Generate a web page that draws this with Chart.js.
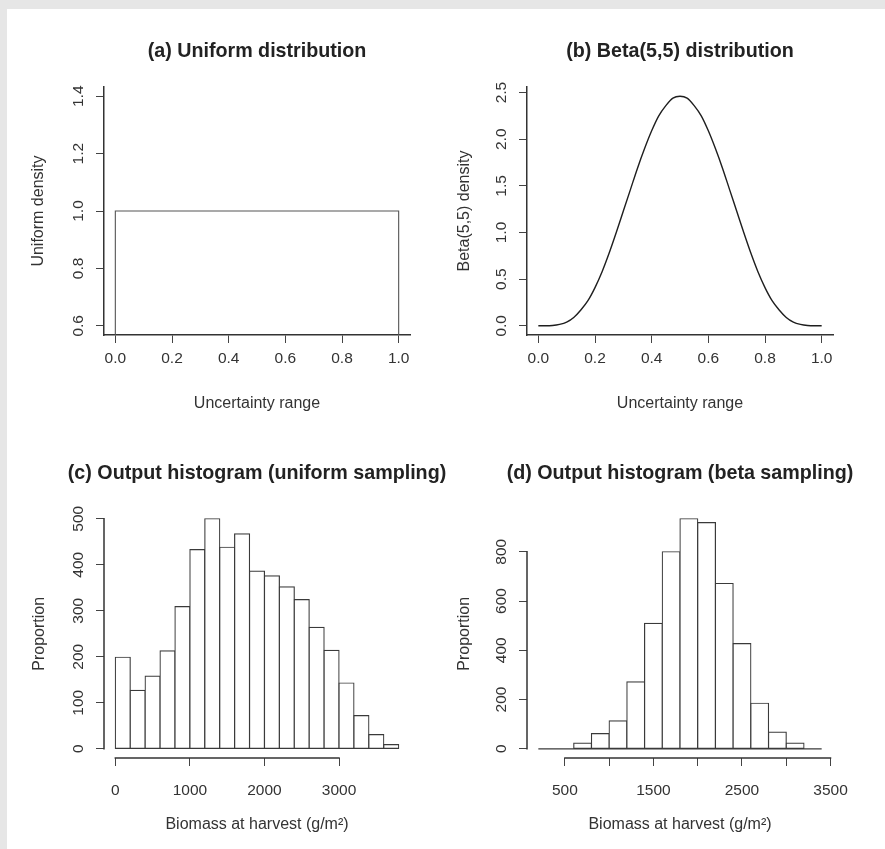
<!DOCTYPE html>
<html>
<head>
<meta charset="utf-8">
<title>Uncertainty sampling and output histograms</title>
<script src="https://cdn.jsdelivr.net/npm/chart.js@4.4.1/dist/chart.umd.min.js"></script>
<style>
  html, body { margin: 0; padding: 0; }
  body { width: 885px; height: 849px; background: #e6e6e6; position: relative; overflow: hidden; }
  #sheet { position: absolute; left: 7px; top: 9px; width: 878px; height: 840px; background: #ffffff; }
  canvas { position: absolute; }
</style>
</head>
<body>
<div id="sheet"></div>
<canvas id="panelA" width="500" height="421" style="left:7px;top:9px"></canvas>
<canvas id="panelB" width="474" height="421" style="left:443px;top:9px"></canvas>
<canvas id="panelC" width="500" height="419" style="left:7px;top:430px"></canvas>
<canvas id="panelD" width="474" height="419" style="left:443px;top:430px"></canvas>
<script>
// ---- (a) uniform density on the unit range ----
const uniformX = [0, 0, 1, 1];
const uniformY = [0, 1, 1, 0];
const unitTicks = [0, 0.2, 0.4, 0.6, 0.8, 1.0];
const unitTickLabels = ['0.0', '0.2', '0.4', '0.6', '0.8', '1.0'];
const uniformDensityTicks = [0.6, 0.8, 1.0, 1.2, 1.4];
const uniformDensityLabels = ['0.6', '0.8', '1.0', '1.2', '1.4'];

// ---- (b) Beta(5,5) density curve ----
const betaX = [0, 0.025, 0.05, 0.075, 0.1, 0.125, 0.15, 0.175, 0.2, 0.225, 0.25,
               0.275, 0.3, 0.325, 0.35, 0.375, 0.4, 0.425, 0.45, 0.475, 0.5,
               0.525, 0.55, 0.575, 0.6, 0.625, 0.65, 0.675, 0.7, 0.725, 0.75,
               0.775, 0.8, 0.825, 0.85, 0.875, 0.9, 0.925, 0.95, 0.975, 1.0];
const betaDensity = [0, 0, 0.003, 0.015, 0.04, 0.09, 0.17, 0.27, 0.41, 0.58, 0.78,
                     1.00, 1.23, 1.46, 1.69, 1.90, 2.09, 2.25, 2.36, 2.44, 2.46,
                     2.44, 2.36, 2.25, 2.09, 1.90, 1.69, 1.46, 1.23, 1.00, 0.78,
                     0.58, 0.41, 0.27, 0.17, 0.09, 0.04, 0.015, 0.003, 0, 0];
const betaDensityTicks = [0, 0.5, 1.0, 1.5, 2.0, 2.5];
const betaDensityLabels = ['0.0', '0.5', '1.0', '1.5', '2.0', '2.5'];

// ---- (c) biomass histogram, uniform sampling (bins of 200 g/m2 from 0) ----
const binWidth = 200;
const uniformBinStart = 0;
const uniformCounts = [199, 127, 158, 213, 309, 433, 500, 438, 467, 386,
                       376, 352, 324, 264, 214, 143, 72, 31, 9];
const uniformBiomassTicks = [0, 1000, 2000, 3000];
const uniformBiomassLabels = ['0', '1000', '2000', '3000'];
const uniformCountTicks = [0, 100, 200, 300, 400, 500];
const uniformCountLabels = ['0', '100', '200', '300', '400', '500'];

// ---- (d) biomass histogram, beta sampling (bins of 200 g/m2 from 200) ----
const betaBinStart = 200;
const betaCounts = [0, 0, 23, 62, 113, 272, 509, 800, 934, 918, 671, 427, 185, 68, 23, 0];
const betaBiomassTicks = [500, 1000, 1500, 2000, 2500, 3000, 3500];
const betaBiomassLabels = ['500', '', '1500', '', '2500', '', '3500'];
const betaCountTicks = [0, 200, 400, 600, 800];
const betaCountLabels = ['0', '200', '400', '600', '800'];

const FONT = "'Liberation Sans', Arial, Helvetica, sans-serif";
const INK = '#333333';

// Axis line drawn only between the first and last tick (classic R axis style)
const tickSpanAxes = {
  id: 'tickSpanAxes',
  afterDraw(chart) {
    const ctx = chart.ctx;
    const xs = chart.scales.x, ys = chart.scales.y;
    ctx.save();
    ctx.strokeStyle = INK;
    ctx.lineWidth = 1.5;
    ctx.lineCap = 'square';
    ctx.beginPath();
    ctx.moveTo(xs.getPixelForValue(xs.ticks[0].value), xs.top);
    ctx.lineTo(xs.getPixelForValue(xs.ticks[xs.ticks.length - 1].value), xs.top);
    ctx.moveTo(ys.right, ys.getPixelForValue(ys.ticks[0].value));
    ctx.lineTo(ys.right, ys.getPixelForValue(ys.ticks[ys.ticks.length - 1].value));
    ctx.stroke();
    ctx.restore();
  }
};

function axis(o) {
  return {
    type: 'linear',
    bounds: 'data',
    min: o.min,
    max: o.max,
    offset: false,
    afterBuildTicks: (s) => { s.ticks = o.ticks.map(v => ({ value: v })); },
    afterFit: (s) => {
      if (o.width !== undefined) s.width = o.width;
      if (o.height !== undefined) s.height = o.height;
    },
    grid: {
      display: true, drawOnChartArea: false, drawTicks: true, offset: false,
      tickLength: 8, tickWidth: 1, tickColor: '#444', color: '#444', lineWidth: 1
    },
    border: { display: o.border, color: INK, width: 1.5 },
    ticks: {
      autoSkip: false,
      minRotation: o.rot, maxRotation: o.rot,
      crossAlign: o.cross,
      padding: o.tickPad,
      color: INK,
      font: { family: FONT, size: 15.5 },
      callback: (v, i) => o.labels[i]
    },
    title: {
      display: true, text: o.title, color: INK,
      font: { family: FONT, size: 16 },
      padding: { top: o.titlePad, bottom: o.titlePad }
    }
  };
}

// Empty right-hand margin as wide as the left axis, so the full-width
// panel title is centred over the plot area.
function rightMargin(width) {
  return {
    type: 'linear', position: 'right', min: 0, max: 1, display: true,
    grid: { display: false }, border: { display: false },
    ticks: { display: false }, title: { display: false },
    afterFit: (s) => { s.width = width; }
  };
}

function panelOptions(p) {
  return {
    responsive: false,
    animation: false,
    events: [],
    layout: { padding: 0 },
    plugins: {
      legend: { display: false },
      tooltip: { enabled: false },
      title: {
        display: true, text: p.title, fullSize: true, color: '#222',
        font: { family: FONT, size: 19.7, weight: 'bold' },
        padding: { top: p.headTop, bottom: p.headBottom }
      }
    },
    scales: {
      x: axis({ min: p.xMin, max: p.xMax, ticks: p.xTicks, labels: p.xLabels, rot: 0, cross: 'near',
                tickPad: p.xTickPad, title: p.xTitle, titlePad: p.xTitlePad, height: p.xHeight, border: p.box }),
      y: axis({ min: p.yMin, max: p.yMax, ticks: p.yTicks, labels: p.yLabels, rot: 90, cross: 'center',
                tickPad: p.yTickPad, title: p.yTitle, titlePad: p.yTitlePad, width: p.yWidth, border: p.box }),
      margin: rightMargin(p.yWidth)
    }
  };
}

function histogramPoints(start, counts) {
  return counts.map((c, i) => ({ x: start + (i + 0.5) * binWidth, y: c }));
}

const barStyle = {
  type: 'bar',
  backgroundColor: '#ffffff',
  borderColor: '#3a3a3a',
  borderWidth: 1.2,
  borderSkipped: false,
  inflateAmount: 0.6,
  barPercentage: 1,
  categoryPercentage: 1
};

// (a) Uniform distribution
new Chart(document.getElementById('panelA'), {
  type: 'line',
  data: {
    datasets: [{
      data: uniformX.map((x, i) => ({ x, y: uniformY[i] })),
      borderColor: '#555555', borderWidth: 1.1, pointRadius: 0, tension: 0, fill: false
    }]
  },
  options: panelOptions({
    title: '(a) Uniform distribution', headTop: 31.2, headBottom: 23.2,
    xMin: -0.04, xMax: 1.04, xTicks: unitTicks, xLabels: unitTickLabels,
    xTitle: 'Uncertainty range', xTickPad: 6.7, xTitlePad: 16.4, xHeight: 95,
    yMin: 0.568, yMax: 1.432, yTicks: uniformDensityTicks, yLabels: uniformDensityLabels,
    yTitle: 'Uniform density', yTickPad: 6.25, yTitlePad: 22.4, yWidth: 97, box: true
  })
});

// (b) Beta(5,5) distribution
new Chart(document.getElementById('panelB'), {
  type: 'line',
  data: {
    datasets: [{
      data: betaX.map((x, i) => ({ x, y: betaDensity[i] })),
      borderColor: '#1e1e1e', borderWidth: 1.4, pointRadius: 0,
      cubicInterpolationMode: 'monotone', fill: false
    }]
  },
  options: panelOptions({
    title: '(b) Beta(5,5) distribution', headTop: 31.2, headBottom: 23.2,
    xMin: -0.04, xMax: 1.04, xTicks: unitTicks, xLabels: unitTickLabels,
    xTitle: 'Uncertainty range', xTickPad: 6.7, xTitlePad: 16.4, xHeight: 95,
    yMin: -0.0984, yMax: 2.5594, yTicks: betaDensityTicks, yLabels: betaDensityLabels,
    yTitle: 'Beta(5,5) density', yTickPad: 6.25, yTitlePad: 11.9, yWidth: 84, box: true
  })
});

// (c) Output histogram (uniform sampling)
new Chart(document.getElementById('panelC'), {
  type: 'bar',
  data: { datasets: [Object.assign({ data: histogramPoints(uniformBinStart, uniformCounts) }, barStyle)] },
  options: panelOptions({
    title: '(c) Output histogram (uniform sampling)', headTop: 32.2, headBottom: 23.7,
    xMin: -152, xMax: 3952, xTicks: uniformBiomassTicks, xLabels: uniformBiomassLabels,
    xTitle: 'Biomass at harvest (g/m²)', xTickPad: 15.7, xTitlePad: 14.4, xHeight: 91,
    yMin: -20, yMax: 520, yTicks: uniformCountTicks, yLabels: uniformCountLabels,
    yTitle: 'Proportion', yTickPad: 4.05, yTitlePad: 23.4, yWidth: 97, box: false
  }),
  plugins: [tickSpanAxes]
});

// (d) Output histogram (beta sampling); the zero-count bins show as a line along 0
const betaBinEdges = [betaBinStart, betaBinStart + betaCounts.length * binWidth];
new Chart(document.getElementById('panelD'), {
  type: 'bar',
  data: {
    datasets: [
      Object.assign({ data: histogramPoints(betaBinStart, betaCounts) }, barStyle),
      {
        type: 'line',
        data: betaBinEdges.map(x => ({ x, y: 0 })),
        borderColor: '#3a3a3a', borderWidth: 1.2, pointRadius: 0, fill: false
      }
    ]
  },
  options: panelOptions({
    title: '(d) Output histogram (beta sampling)', headTop: 32.2, headBottom: 23.7,
    xMin: 72, xMax: 3528, xTicks: betaBiomassTicks, xLabels: betaBiomassLabels,
    xTitle: 'Biomass at harvest (g/m²)', xTickPad: 15.7, xTitlePad: 14.4, xHeight: 91,
    yMin: -37.36, yMax: 971.36, yTicks: betaCountTicks, yLabels: betaCountLabels,
    yTitle: 'Proportion', yTickPad: 4.05, yTitlePad: 12.1, yWidth: 84, box: false
  }),
  plugins: [tickSpanAxes]
});
</script>
</body>
</html>
